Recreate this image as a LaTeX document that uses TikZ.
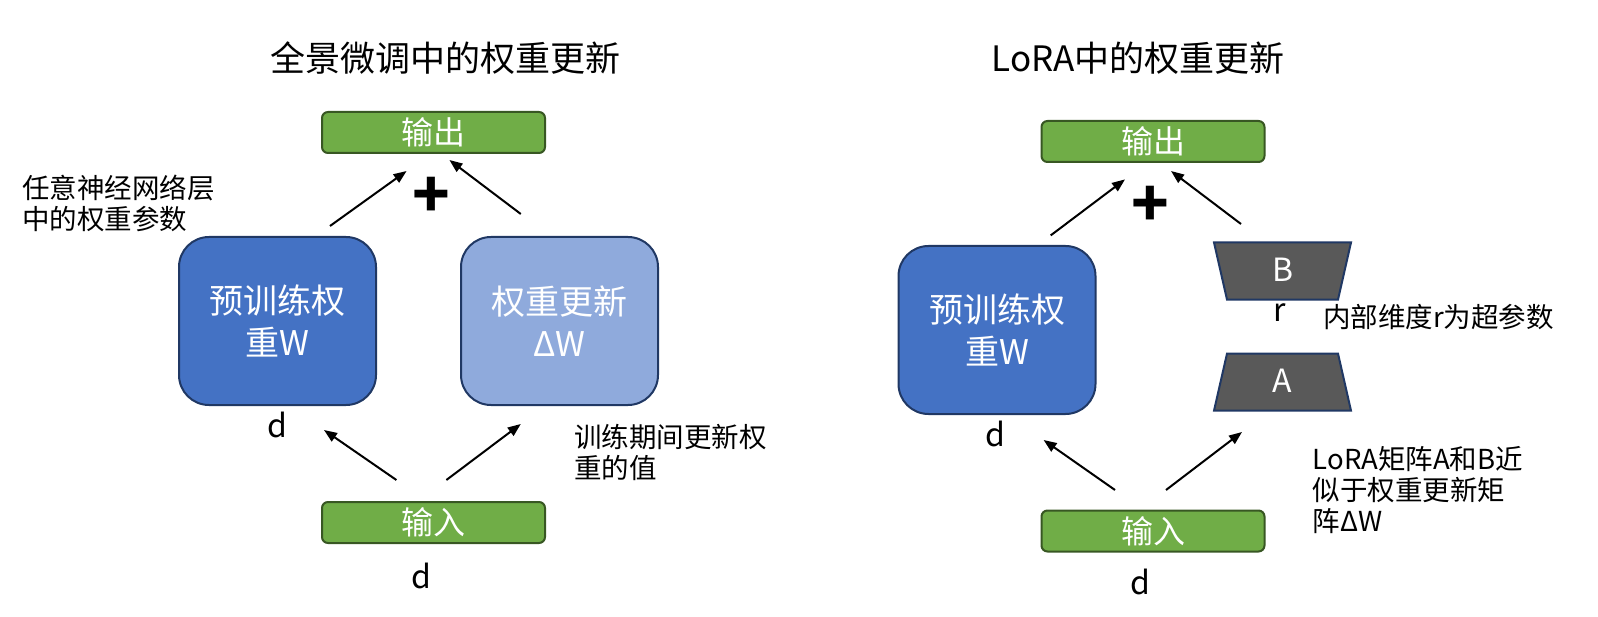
\documentclass[tikz,border=0pt]{standalone}
\usepackage{fontspec}
\setmainfont{Noto Sans CJK SC}
\usetikzlibrary{arrows.meta}

\definecolor{iogreen}{HTML}{70AD47}
\definecolor{iogreenline}{HTML}{385723}
\definecolor{wblue}{HTML}{4472C4}
\definecolor{dwblue}{HTML}{8FAADC}
\definecolor{boxline}{HTML}{203864}
\definecolor{loragray}{HTML}{595959}

\begin{document}
\begin{tikzpicture}[x=1pt, y=-1pt,
    iobox/.style={draw=iogreenline, fill=iogreen, line width=2pt, rounded corners=6pt,
        minimum width=223pt, minimum height=41pt, inner sep=0pt, text=white,
        font=\fontsize{32}{36}\selectfont},
    wbox/.style={draw=boxline, line width=2pt, rounded corners=30pt,
        minimum width=197pt, minimum height=168pt, inner sep=0pt, text=white,
        align=center, font=\fontsize{34}{42}\selectfont},
    trapbox/.style={draw=boxline, fill=loragray, line width=2pt},
    titletext/.style={font=\fontsize{35}{40}\selectfont, inner sep=0pt},
    notetext/.style={font=\fontsize{27.5}{31}\selectfont, align=left, anchor=west, inner sep=0pt},
    dimtext/.style={font=\fontsize{32}{36}\selectfont, inner sep=0pt},
    plussign/.style={font=\fontsize{62}{62}\selectfont\bfseries, inner sep=0pt},
    flow/.style={line width=2pt, -{Triangle[length=13pt, width=10pt]}}
]

    \useasboundingbox (0,0) rectangle (1598,617);

    % === LEFT: FULL FINE-TUNING ===
    \node[titletext] (title1) at (445,58) {全景微调中的权重更新};

    \node[iobox] (out1) at (433.5,132.5) {输出};
    \node[iobox] (in1) at (433.5,522.5) {输入};

    \node[wbox, fill=wblue] (pre1) at (277.5,321) {预训练权\\重W};
    \node[wbox, fill=dwblue] (dw1) at (559.5,321) {权重更新\\ΔW};

    \node[plussign] (plus1) at (431.5,197) {+};

    \node[dimtext] (d1) at (277,425) {d};
    \node[dimtext] (d2) at (421,576) {d};

    \node[notetext] (note1) at (22,203.5) {任意神经网络层\\中的权重参数};
    \node[notetext] (note2) at (574,452) {训练期间更新权\\重的值};

    % arrow ends
    \coordinate (p1a) at (330,226);   \coordinate (p1b) at (406.6,171);
    \coordinate (p2a) at (520.8,214); \coordinate (p2b) at (449.4,160);
    \coordinate (p3a) at (396.4,480); \coordinate (p3b) at (324,430);
    \coordinate (p4a) at (446.4,480); \coordinate (p4b) at (520.8,424);

    \draw[flow] (p1a) -- (p1b);
    \draw[flow] (p2a) -- (p2b);
    \draw[flow] (p3a) -- (p3b);
    \draw[flow] (p4a) -- (p4b);

    % === RIGHT: LORA ===
    \node[titletext] (title2) at (1138,58) {LoRA中的权重更新};

    \node[iobox] (out2) at (1153,141.5) {输出};
    \node[iobox] (in2) at (1153,531) {输入};

    \node[wbox, fill=wblue] (pre2) at (997,330) {预训练权\\重W};

    % B and A matrices
    \draw[trapbox] (1214,242.5) -- (1351,242.5) -- (1338,299.6) -- (1227,299.6) -- cycle;
    \draw[trapbox] (1227,353.6) -- (1338,353.6) -- (1351,410.7) -- (1214,410.7) -- cycle;
    \node[dimtext, text=white] (matB) at (1282.5,270) {B};
    \node[dimtext, text=white] (matA) at (1282.5,381) {A};
    \node[dimtext] (rank) at (1280,313) {r};

    \node[plussign] (plus2) at (1150,206) {+};

    \node[dimtext] (d3) at (995.7,434) {d};
    \node[dimtext] (d4) at (1140,582) {d};

    \node[notetext] (note3) at (1323,317) {内部维度r为超参数};
    \node[notetext] (note4) at (1312.6,490) {LoRA矩阵A和B近\\似于权重更新矩\\阵ΔW};

    % arrow ends
    \coordinate (q1a) at (1050.7,235.4); \coordinate (q1b) at (1125,179.4);
    \coordinate (q2a) at (1241,224);     \coordinate (q2b) at (1171,171);
    \coordinate (q3a) at (1115,490);     \coordinate (q3b) at (1043.6,440);
    \coordinate (q4a) at (1166,490);     \coordinate (q4b) at (1242,432);

    \draw[flow] (q1a) -- (q1b);
    \draw[flow] (q2a) -- (q2b);
    \draw[flow] (q3a) -- (q3b);
    \draw[flow] (q4a) -- (q4b);

\end{tikzpicture}
\end{document}
